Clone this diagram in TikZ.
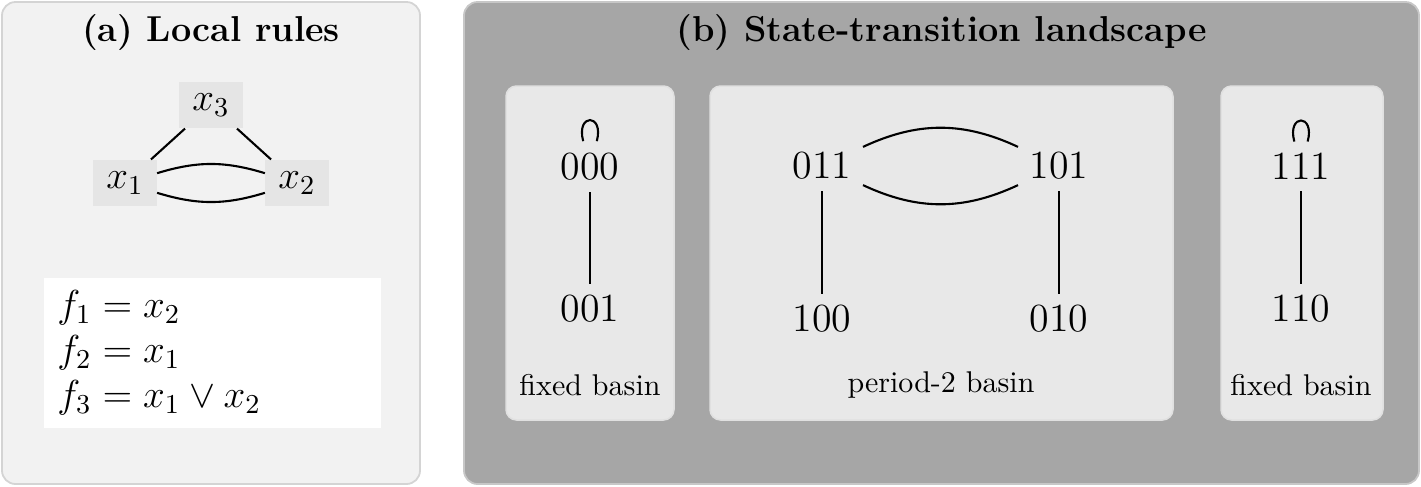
\documentclass[tikz,border=0pt]{standalone}
\usepackage{fix-cm}
\usepackage{amsmath,amssymb}
\usetikzlibrary{positioning}

\begin{document}
\begin{tikzpicture}
  [x=0.3333pt, y=-0.3333pt, on grid, auto,
   panel/.style={draw=black!17, line width=0.6pt, rounded corners=4.5pt},
   basin/.style={draw=black!12, fill=black!9, line width=0.5pt, rounded corners=3.5pt},
   heading/.style={font=\large\bfseries},
   var/.style={fill=black!10, minimum width=21pt, minimum height=15.3pt, inner sep=0pt,
     font=\fontsize{13}{15.6}\selectfont},
   st/.style={inner sep=3.7pt, font=\fontsize{13.3}{16}\selectfont},
   tag/.style={font=\normalsize},
   link/.style={line width=0.7pt},
   every loop/.style={min distance=9.7pt, looseness=1}]
  \useasboundingbox (0,0) rectangle (1421,486);

  % (a) local rules
  \draw[panel, fill=black!5] (2,2) rectangle (420,484);
  \node[heading] (ta) at (211,33) {(a) Local rules};
  \node[var] (x3) at (211,105) {$x_3$};
  \node[var] (x1) at (125,183) {$x_1$};
  \node[var] (x2) at (297,183) {$x_2$};
  \path[link]
    (x3) edge (x1)
         edge (x2)
    (x1) edge [bend left=17] (x2)
    (x2) edge [bend left=17] (x1);
  \node[fill=white, anchor=north west, minimum width=112.3pt, minimum height=50pt,
    inner xsep=4.6pt, text width=103.1pt, align=left,
    font=\fontsize{13}{15}\selectfont] (rules) at (43,277)
    {$f_1 = x_2$\\ $f_2 = x_1$\\ $f_3 = x_1 \lor x_2$};

  % (b) state-transition landscape
  \draw[panel, fill=black!35, draw=black!22] (464,2) rectangle (1419,484);
  \node[heading] (tb) at (941.5,33) {(b) State-transition landscape};
  \draw[basin] (506,86) rectangle (674,420);
  \draw[basin] (710,86) rectangle (1173,420);
  \draw[basin] (1221,86) rectangle (1383,420);

  \node[st] (s000) at (590,166.5) {000};
  \node[st] (s001) [below=47.5pt of s000] {001};
  \node[tag] (fa) at (590,385) {fixed basin};

  \node[st] (s011) at (822,166) {011};
  \node[st] (s101) [right=79pt of s011] {101};
  \node[st] (s100) [below=51pt of s011] {100};
  \node[st] (s010) [below=51pt of s101] {010};
  \node[tag] (pb) at (941,385) {period-2 basin};

  \node[st] (s111) at (1301,166.5) {111};
  \node[st] (s110) [below=47.5pt of s111] {110};
  \node[tag] (fc) at (1301,385) {fixed basin};

  \path[link]
    (s000) edge [loop above] (s000)
    (s001) edge (s000)
    (s011) edge [bend left=25] (s101)
    (s101) edge [bend left=25] (s011)
    (s100) edge (s011)
    (s010) edge (s101)
    (s111) edge [loop above] (s111)
    (s110) edge (s111);
\end{tikzpicture}
\end{document}
